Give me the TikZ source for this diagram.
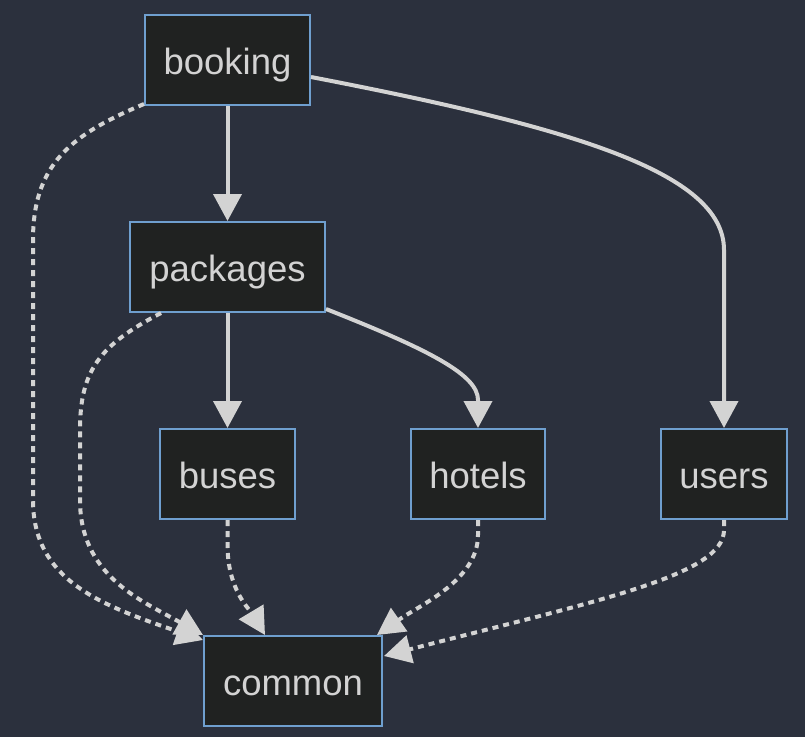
\documentclass[tikz,border=0pt]{standalone}
\usepackage{fontspec}
\setmainfont{Liberation Sans}
\usetikzlibrary{arrows.meta,calc}
\definecolor{bg}{HTML}{2B303D}
\definecolor{nodefill}{HTML}{202221}
\definecolor{nodeborder}{HTML}{6F9FCF}
\definecolor{ink}{HTML}{D3D3D3}
\tikzset{
  box/.style={draw=nodeborder, fill=nodefill, line width=2pt, inner sep=0pt,
    minimum height=90pt, text height=30pt, text depth=2pt, text=ink,
    font=\fontsize{36.5}{40}\selectfont},
  dep/.style={draw=ink, line width=4pt, -{Triangle[length=27pt,width=28pt]}},
  dotdep/.style={dep, dash pattern=on 6pt off 5pt},
}
\begin{document}
\begin{tikzpicture}[x=1pt,y=-1pt]
\useasboundingbox (0,0) rectangle (805,737);
\fill[bg] (0,0) rectangle (805,737);
\node[box, minimum width=165pt] (booking) at (227.5,60) {booking};
\node[box, minimum width=195pt] (packages) at (227.5,267) {packages};
\node[box, minimum width=135pt] (buses) at (227.5,474) {buses};
\node[box, minimum width=134pt] (hotels) at (478,474) {hotels};
\node[box, minimum width=126pt] (users) at (724,474) {users};
\node[box, minimum width=178pt] (common) at (293,681) {common};

\draw[dep] (booking.south) -- (packages.north);
\draw[dep] ($(booking.east)+(0,17)$) .. controls (570,127) and (724,172) .. (724,250) -- (users.north);
\draw[dep] (packages.south) -- (buses.north);
\draw[dep] ($(packages.south east)+(0,-4)$) .. controls (430,350) and (478,375) .. (478,400) -- (hotels.north);

\draw[dotdep] ($(booking.south west)+(0,-2)$) .. controls (70,135) and (33,165) .. (33,240) -- (33,500) .. controls (33,580) and (100,605) .. ($(common.north west)+(0,5)$);
\draw[dotdep] ($(packages.south west)+(32,0)$) .. controls (100,345) and (80,370) .. (80,430) -- (80,500) .. controls (80,575) and (140,600) .. (common.north west);
\draw[dotdep] (buses.south) -- (227.5,545) .. controls (227.5,590) and (250,610) .. ($(common.north)+(-28,0)$);
\draw[dotdep] (hotels.south) -- (478,535) .. controls (478,580) and (420,605) .. ($(common.north east)+(-6,0)$);
\draw[dotdep] (users.south) -- (724,530) .. controls (724,575) and (600,600) .. ($(common.north east)+(1,21)$);
\end{tikzpicture}
\end{document}
